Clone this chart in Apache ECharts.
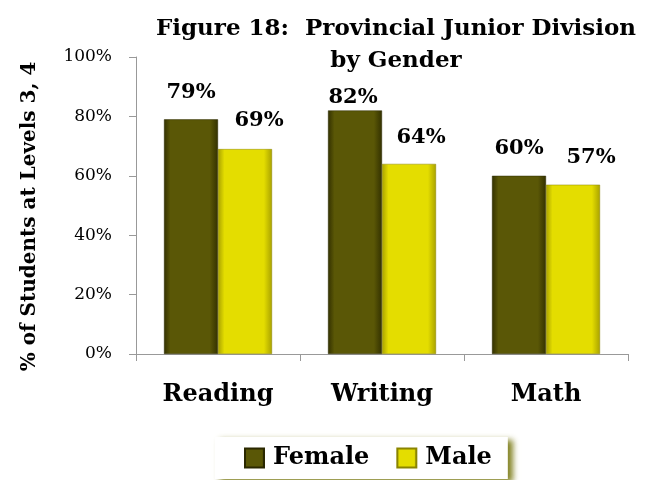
<!DOCTYPE html>
<html><head><meta charset="utf-8">
<script src="https://cdn.jsdelivr.net/npm/echarts@6/dist/echarts.min.js"></script>
<style>html,body{margin:0;padding:0;background:#fff}#c{width:646px;height:480px}</style>
</head><body><div id="c"></div>
<script>
var categories = ['Reading', 'Writing', 'Math'];
var female = [79, 82, 60];
var male = [69, 64, 57];
var yTicks = [0, 20, 40, 60, 80, 100];

var FONT = '"DejaVu Serif", serif';
function grad(edge, mid) {
  return new echarts.graphic.LinearGradient(0, 0, 1, 0, [
    {offset: 0, color: edge}, {offset: 0.12, color: mid}, {offset: 0.85, color: mid}, {offset: 1, color: edge}
  ]);
}
var femaleOffsets = [[0, -4], [-2, 10], [0, -5]];
var maleOffsets = [[14, -6], [12, -4], [18, -5]];
function mk(vals, offs) {
  return vals.map(function (v, i) { return {value: v, label: {offset: offs[i]}}; });
}
var chart = echarts.init(document.getElementById('c'));
chart.setOption({
  animation: false,
  title: {
    text: 'Figure 18:  Provincial Junior Division\nby Gender',
    left: 391, top: 8, textAlign: 'center',
    textStyle: {fontFamily: FONT, fontWeight: 'bold', fontSize: 23, lineHeight: 32, color: '#000'}
  },
  grid: {left: 136, right: 18, top: 57, bottom: 126},
  legend: {
    data: ['Female', 'Male'],
    bottom: 1, left: 215,
    icon: 'rect',
    itemWidth: 19, itemHeight: 19, itemGap: 27,
    padding: [9, 16, 9, 29],
    backgroundColor: '#fff',
    shadowColor: 'rgba(110,110,0,0.85)', shadowBlur: 6, shadowOffsetX: 5, shadowOffsetY: 3,
    textStyle: {fontFamily: FONT, fontWeight: 'bold', fontSize: 24, color: '#000', padding: [0, 0, 0, 4]}
  },
  xAxis: {
    type: 'category', data: categories,
    axisLine: {lineStyle: {color: '#999'}},
    axisTick: {show: true, length: 7, lineStyle: {color: '#999'}},
    axisLabel: {fontFamily: FONT, fontWeight: 'bold', fontSize: 24, color: '#000', margin: 29}
  },
  yAxis: {
    type: 'value', min: 0, max: 100, interval: 20,
    name: '% of Students at Levels 3, 4', nameLocation: 'middle', nameGap: 96, nameRotate: 90,
    nameTextStyle: {fontFamily: FONT, fontWeight: 'bold', fontSize: 20, color: '#000', padding: [0, 22, 0, 0]},
    axisLine: {show: true, lineStyle: {color: '#999'}},
    axisTick: {show: true, length: 7, lineStyle: {color: '#999'}},
    splitLine: {show: false},
    axisLabel: {fontFamily: FONT, fontSize: 17, color: '#000', margin: 24,
      formatter: function (v) { return yTicks.indexOf(v) >= 0 ? v + '%' : ''; }}
  },
  series: [
    {name: 'Female', type: 'bar', data: mk(female, femaleOffsets), barWidth: 54, barGap: '0%',
     itemStyle: {color: grad('#333100', '#5a5706'), borderColor: '#2a2800', borderWidth: 0.5},
     label: {show: true, position: 'top', distance: 12, formatter: '{c}%',
       fontFamily: FONT, fontWeight: 'bold', fontSize: 21, color: '#000'}},
    {name: 'Male', type: 'bar', data: mk(male, maleOffsets), barWidth: 54,
     itemStyle: {color: grad('#a9a200', '#e4dd00'), borderColor: '#8a8400', borderWidth: 0.5},
     label: {show: true, position: 'top', distance: 12, formatter: '{c}%',
       fontFamily: FONT, fontWeight: 'bold', fontSize: 21, color: '#000'}}
  ]
});
</script></body></html>
